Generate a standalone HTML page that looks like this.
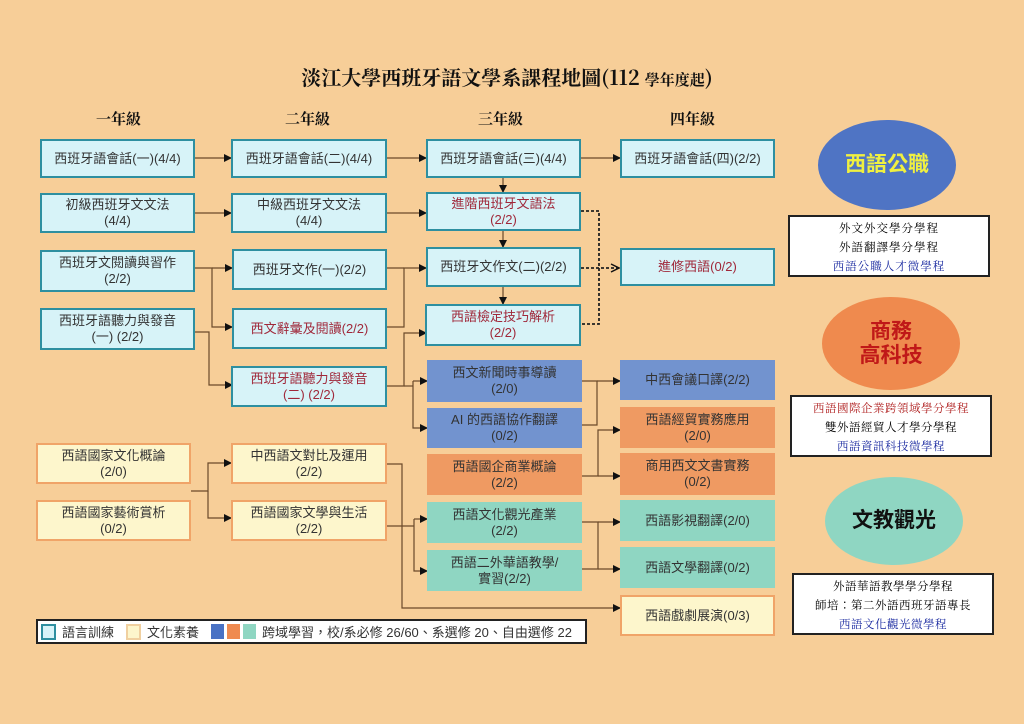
<!DOCTYPE html>
<html><head><meta charset="utf-8"><style>
body{margin:0;width:1024px;height:724px;background:#f7ce98;position:relative;overflow:hidden;font-family:"Liberation Sans","Noto Sans CJK TC",sans-serif;}
.b{position:absolute;box-sizing:border-box;display:flex;align-items:center;justify-content:center;text-align:center;font-size:13px;line-height:16px;color:#333;}
.l{background:#d7f3f8;border:2px solid #2e8fa0;}
.c{background:#fdf6cc;border:2px solid #f0a468;}
.u{background:#7293cf;}
.o{background:#ef9a62;}
.t{background:#8fd6c2;}
.r{color:#a0283a;}
.h{position:absolute;font-family:"Noto Serif CJK TC","Noto Serif CJK SC",serif;font-weight:bold;font-size:15px;color:#111;}
.e{position:absolute;border-radius:50%;display:flex;align-items:center;justify-content:center;text-align:center;font-weight:bold;font-size:21px;line-height:24px;}
.w{position:absolute;background:#fff;border:2px solid #222;box-sizing:border-box;text-align:center;font-family:"Noto Serif CJK TC","Noto Serif CJK SC",serif;font-size:11.5px;line-height:19px;padding-top:2px;letter-spacing:1px;}
</style></head><body>
<div class="h" style="left:257px;top:62px;font-size:20px;width:500px;text-align:center">淡江大學西班牙語文學系課程地圖(112 <span style="font-size:15px">學年度起</span>)</div>
<div class="h" style="left:96px;top:108px">一年級</div>
<div class="h" style="left:285px;top:108px">二年級</div>
<div class="h" style="left:478px;top:108px">三年級</div>
<div class="h" style="left:670px;top:108px">四年級</div>

<svg style="position:absolute;left:0;top:0" width="1024" height="724">
<defs><marker id="a" markerWidth="8" markerHeight="8" refX="7" refY="4" orient="auto" markerUnits="userSpaceOnUse"><path d="M0,0 L8,4 L0,8z" fill="#111"/></marker>
<marker id="oa" markerWidth="10" markerHeight="10" refX="9" refY="5" orient="auto" markerUnits="userSpaceOnUse"><path d="M1,1 L9,5 L1,9" fill="none" stroke="#111" stroke-width="1.5"/></marker></defs>
<g stroke="#6b4a2a" stroke-width="1.2" fill="none">
<line x1="195" y1="158" x2="231" y2="158" marker-end="url(#a)"/>
<line x1="387" y1="158" x2="426" y2="158" marker-end="url(#a)"/>
<line x1="581" y1="158" x2="620" y2="158" marker-end="url(#a)"/>
<line x1="195" y1="213" x2="231" y2="213" marker-end="url(#a)"/>
<line x1="387" y1="213" x2="426" y2="213" marker-end="url(#a)"/>
<line x1="503" y1="178" x2="503" y2="192" marker-end="url(#a)"/>
<line x1="503" y1="231" x2="503" y2="247" marker-end="url(#a)"/>
<line x1="503" y1="287" x2="503" y2="304" marker-end="url(#a)"/>
<polyline points="195,268 212,268 212,327 232,327" marker-end="url(#a)"/>
<line x1="212" y1="268" x2="232" y2="268" marker-end="url(#a)"/>
<polyline points="195,332 209,332 209,385 232,385" marker-end="url(#a)"/>
<polyline points="387,327 404,327 404,268 426,268" marker-end="url(#a)"/>
<line x1="387" y1="268" x2="404" y2="268"/>
<polyline points="387,386 404,386 404,333 426,333" marker-end="url(#a)"/>
<polyline points="404,386 413,386"/>
<polyline points="413,381 413,428 427,428" marker-end="url(#a)"/>
<line x1="413" y1="381" x2="427" y2="381" marker-end="url(#a)"/>
<polyline points="582,381 597,381 597,425 582,425"/>
<line x1="597" y1="381" x2="620" y2="381" marker-end="url(#a)"/>
<polyline points="582,476 598,476 598,430 620,430" marker-end="url(#a)"/>
<line x1="598" y1="476" x2="620" y2="476" marker-end="url(#a)"/>
<polyline points="582,522 598,522 598,569 582,569"/>
<line x1="598" y1="522" x2="620" y2="522" marker-end="url(#a)"/>
<line x1="598" y1="569" x2="620" y2="569" marker-end="url(#a)"/>
<polyline points="191,491 208,491 208,463 231,463" marker-end="url(#a)"/>
<polyline points="208,491 208,518 231,518" marker-end="url(#a)"/>
<polyline points="387,464 402,464 402,608 620,608" marker-end="url(#a)"/>
<polyline points="387,526 414,526"/>
<polyline points="414,519 414,571 427,571" marker-end="url(#a)"/>
<line x1="414" y1="519" x2="427" y2="519" marker-end="url(#a)"/>
</g>
<g stroke="#222" stroke-width="1.8" stroke-dasharray="3,2" fill="none">
<polyline points="581,211 599,211 599,324 581,324"/>
<line x1="581" y1="268" x2="619" y2="268" marker-end="url(#oa)"/>
</g>
</svg>

<div class="b l" style="left:40px;top:139px;width:155px;height:39px">西班牙語會話(一)(4/4)</div>
<div class="b l" style="left:40px;top:193px;width:155px;height:40px">初級西班牙文文法<br>(4/4)</div>
<div class="b l" style="left:40px;top:250px;width:155px;height:42px">西班牙文閱讀與習作<br>(2/2)</div>
<div class="b l" style="left:40px;top:308px;width:155px;height:42px">西班牙語聽力與發音<br>(一) (2/2)</div>

<div class="b l" style="left:231px;top:139px;width:156px;height:39px">西班牙語會話(二)(4/4)</div>
<div class="b l" style="left:231px;top:193px;width:156px;height:40px">中級西班牙文文法<br>(4/4)</div>
<div class="b l" style="left:232px;top:249px;width:155px;height:41px">西班牙文作(一)(2/2)</div>
<div class="b l r" style="left:232px;top:308px;width:155px;height:41px">西文辭彙及閱讀(2/2)</div>
<div class="b l r" style="left:231px;top:366px;width:156px;height:41px">西班牙語聽力與發音<br>(二) (2/2)</div>

<div class="b l" style="left:426px;top:139px;width:155px;height:39px">西班牙語會話(三)(4/4)</div>
<div class="b l r" style="left:426px;top:192px;width:155px;height:39px">進階西班牙文語法<br>(2/2)</div>
<div class="b l" style="left:426px;top:247px;width:155px;height:40px">西班牙文作文(二)(2/2)</div>
<div class="b l r" style="left:425px;top:304px;width:156px;height:42px">西語檢定技巧解析<br>(2/2)</div>

<div class="b l" style="left:620px;top:139px;width:155px;height:39px">西班牙語會話(四)(2/2)</div>
<div class="b l r" style="left:620px;top:248px;width:155px;height:38px">進修西語(0/2)</div>

<div class="b u" style="left:427px;top:360px;width:155px;height:42px">西文新聞時事導讀<br>(2/0)</div>
<div class="b u" style="left:427px;top:408px;width:155px;height:40px">AI 的西語協作翻譯<br>(0/2)</div>
<div class="b o" style="left:427px;top:454px;width:155px;height:41px">西語國企商業概論<br>(2/2)</div>
<div class="b t" style="left:427px;top:502px;width:155px;height:41px">西語文化觀光產業<br>(2/2)</div>
<div class="b t" style="left:427px;top:550px;width:155px;height:41px">西語二外華語教學/<br>實習(2/2)</div>

<div class="b u" style="left:620px;top:360px;width:155px;height:40px">中西會議口譯(2/2)</div>
<div class="b o" style="left:620px;top:407px;width:155px;height:41px">西語經貿實務應用<br>(2/0)</div>
<div class="b o" style="left:620px;top:453px;width:155px;height:42px">商用西文文書實務<br>(0/2)</div>
<div class="b t" style="left:620px;top:500px;width:155px;height:41px">西語影視翻譯(2/0)</div>
<div class="b t" style="left:620px;top:547px;width:155px;height:41px">西語文學翻譯(0/2)</div>
<div class="b c" style="left:620px;top:595px;width:155px;height:41px">西語戲劇展演(0/3)</div>

<div class="b c" style="left:36px;top:443px;width:155px;height:41px">西語國家文化概論<br>(2/0)</div>
<div class="b c" style="left:36px;top:500px;width:155px;height:41px">西語國家藝術賞析<br>(0/2)</div>
<div class="b c" style="left:231px;top:443px;width:156px;height:41px">中西語文對比及運用<br>(2/2)</div>
<div class="b c" style="left:231px;top:500px;width:156px;height:41px">西語國家文學與生活<br>(2/2)</div>

<div style="position:absolute;left:36px;top:619px;width:551px;height:25px;background:#fff;border:2px solid #222;box-sizing:border-box;font-size:13px;color:#333;display:flex;align-items:center;padding-left:3px;white-space:nowrap">
<span style="display:inline-block;width:11px;height:12px;background:#d7f3f8;border:2px solid #2e8fa0;margin-right:6px"></span>語言訓練
<span style="display:inline-block;width:11px;height:12px;background:#fdf6cc;border:2px solid #f0d0a0;margin:0 6px 0 12px"></span>文化素養
<span style="display:inline-block;width:13px;height:15px;background:#4a72c4;margin:0 3px 0 12px"></span><span style="display:inline-block;width:13px;height:15px;background:#ef8a50;margin-right:3px"></span><span style="display:inline-block;width:13px;height:15px;background:#8fd6c2;margin-right:6px"></span>跨域學習，校/系必修 26/60、系選修 20、自由選修 22</div>

<div class="e" style="left:818px;top:120px;width:138px;height:90px;background:#4f74c4;color:#f0f040">西語公職</div>
<div class="w" style="left:788px;top:215px;width:202px;height:62px">外文外交學分學程<br>外語翻譯學分學程<br><span style="color:#1a2aa0">西語公職人才微學程</span></div>
<div class="e" style="left:822px;top:297px;width:138px;height:93px;background:#ef8a4e;color:#c01818">商務<br>高科技</div>
<div class="w" style="left:790px;top:395px;width:202px;height:62px;letter-spacing:0.5px"><span style="color:#b02020">西語國際企業跨領域學分學程</span><br>雙外語經貿人才學分學程<br><span style="color:#1a2aa0">西語資訊科技微學程</span></div>
<div class="e" style="left:825px;top:477px;width:138px;height:88px;background:#8fd6c2;color:#111">文教觀光</div>
<div class="w" style="left:792px;top:573px;width:202px;height:62px;letter-spacing:0.5px">外語華語教學學分學程<br>師培：第二外語西班牙語專長<br><span style="color:#1a2aa0">西語文化觀光微學程</span></div>
</body></html>
